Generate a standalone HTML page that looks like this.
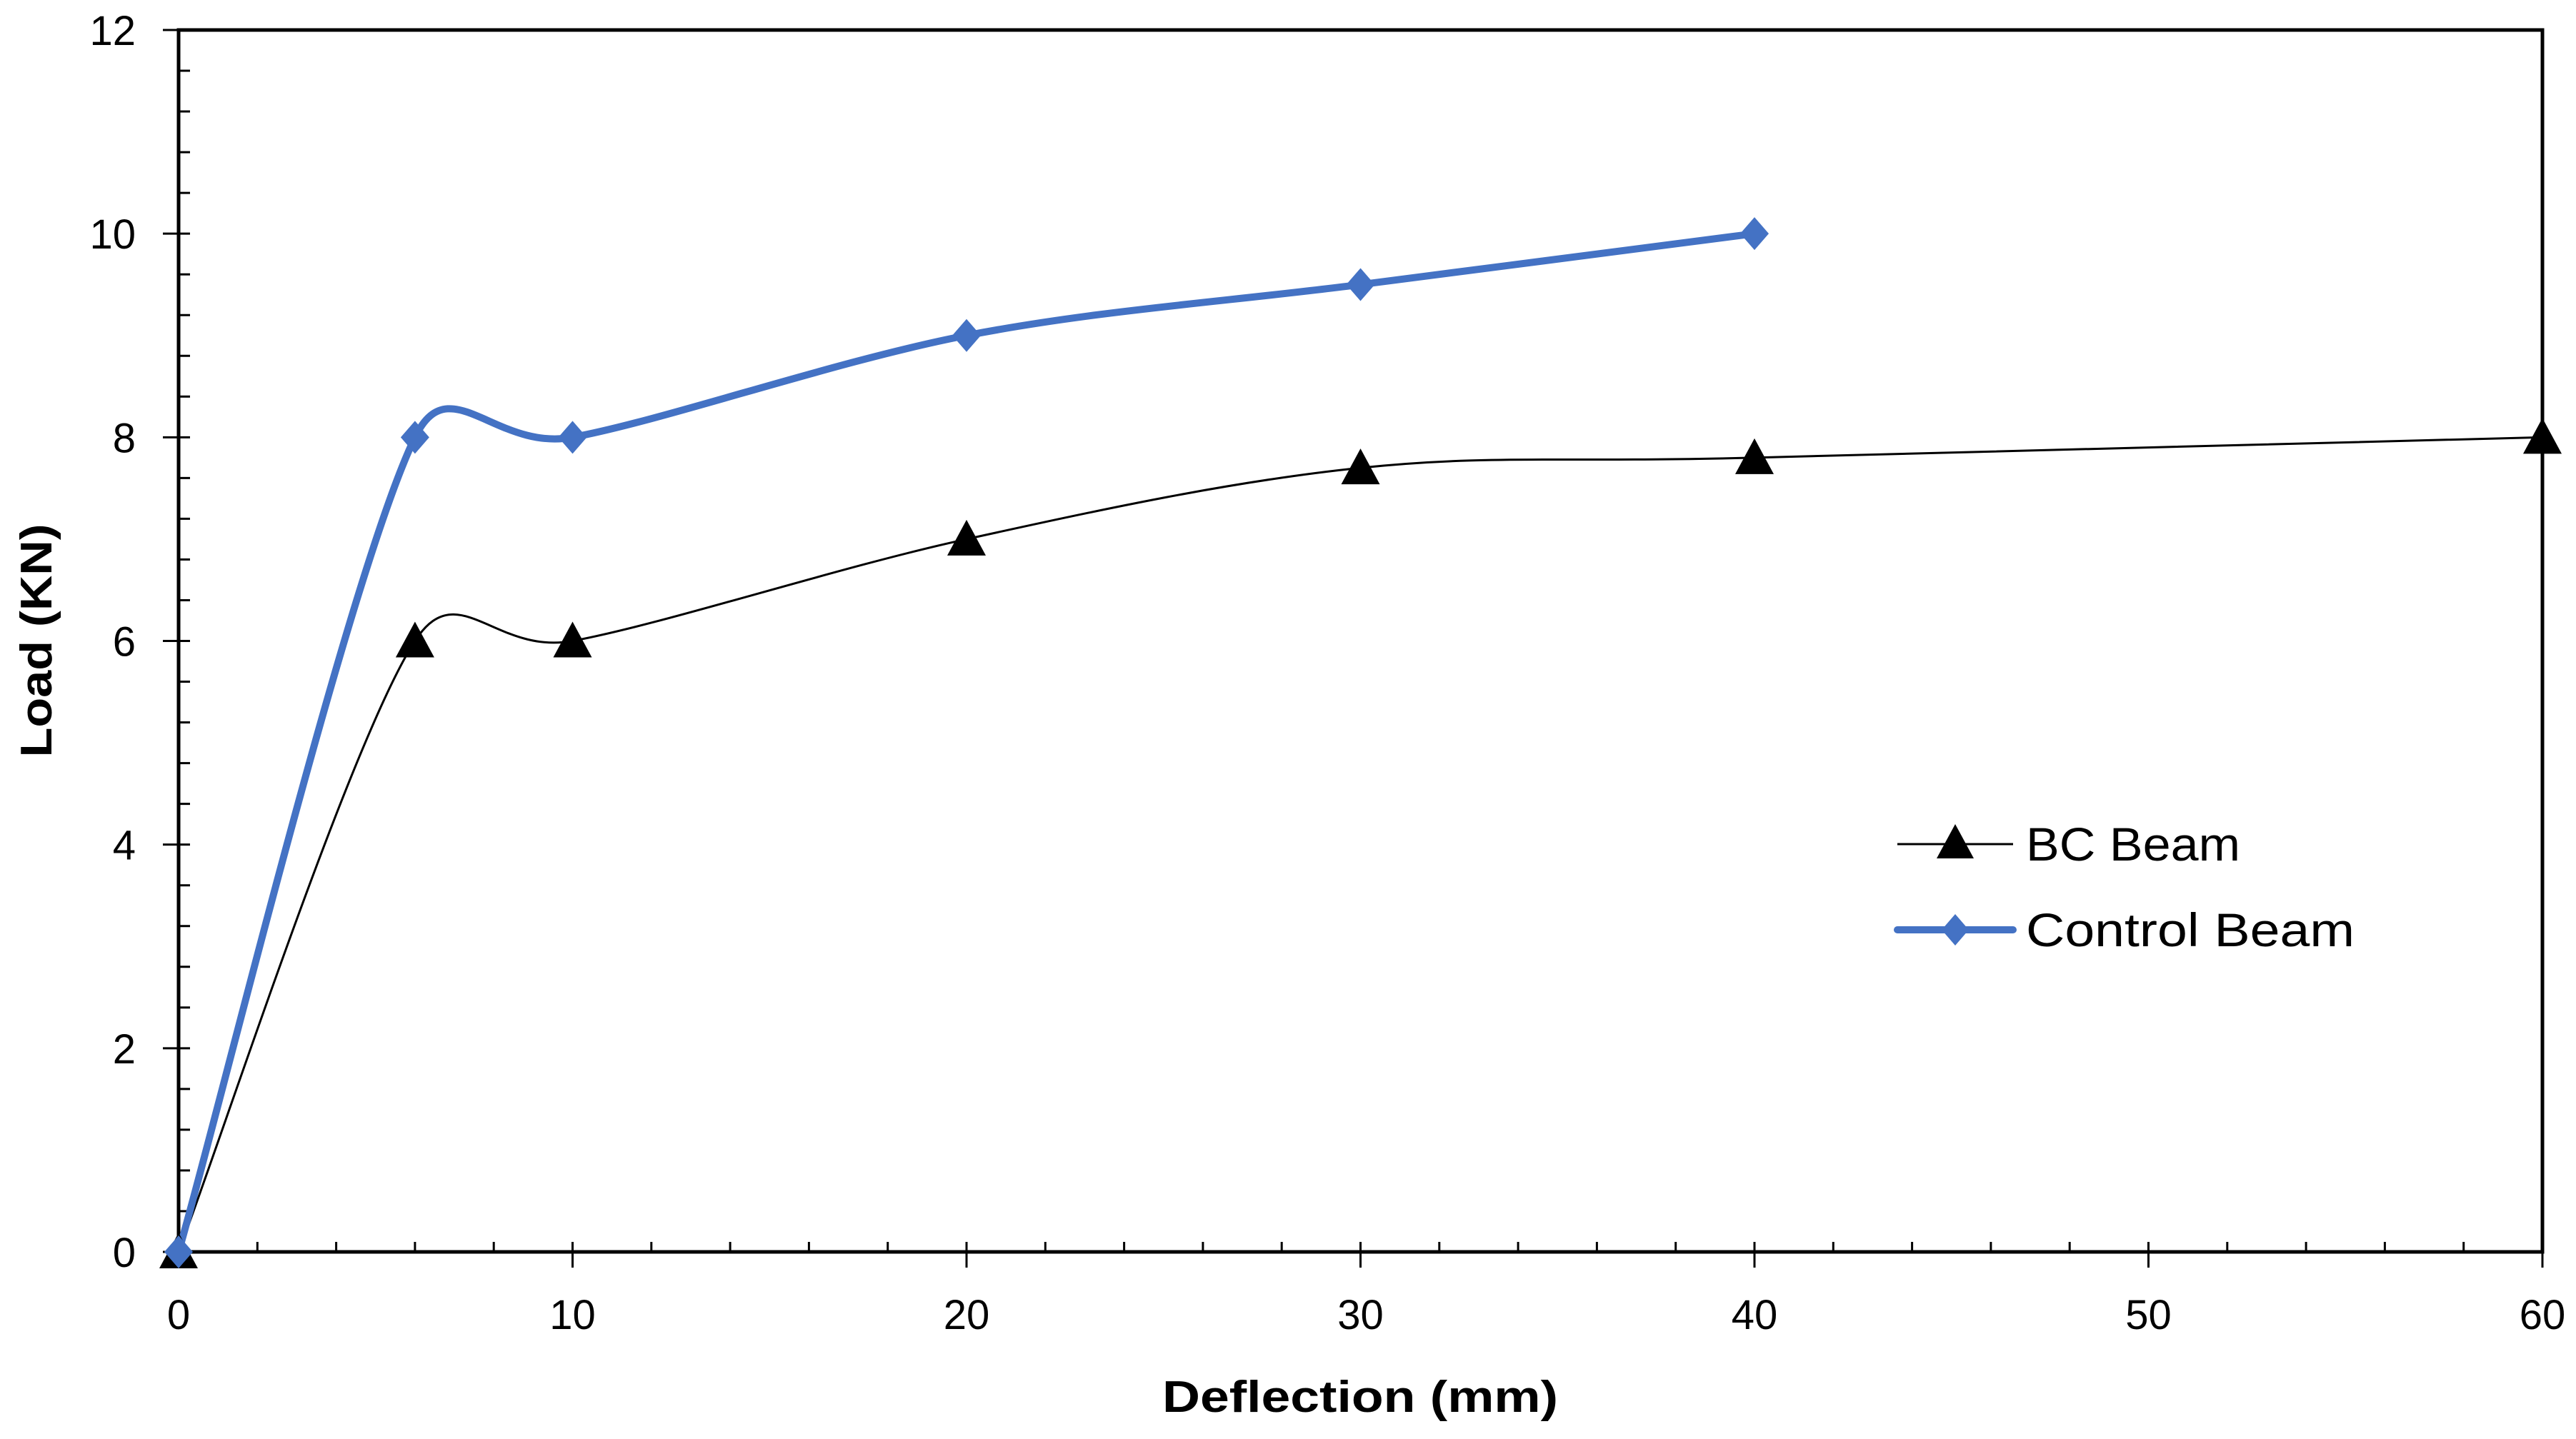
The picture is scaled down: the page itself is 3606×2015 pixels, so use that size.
<!DOCTYPE html>
<html><head><meta charset="utf-8"><style>
html,body{margin:0;padding:0;background:#fff;}
svg{display:block;font-family:"Liberation Sans",sans-serif;}
</style></head><body>
<svg id="chart" width="3606" height="2015" viewBox="0 0 3606 2015">
<rect width="3606" height="2015" fill="#fff"/>
<g id="axes"></g>
<g id="series"></g>
<g id="legend">
  <line x1="2656" y1="1182" x2="2818" y2="1182" stroke="#000" stroke-width="3"/>
  <polygon points="2737,1154 2763,1202 2711,1202" fill="#000"/>
  <text x="2836" y="1205" font-size="66" textLength="300" lengthAdjust="spacingAndGlyphs">BC Beam</text>
  <line x1="2656" y1="1302" x2="2818" y2="1302" stroke="#4472C4" stroke-width="10" stroke-linecap="round"/>
  <polygon points="2737,1280 2756,1302 2737,1324 2718,1302" fill="#4472C4"/>
  <text x="2836" y="1325" font-size="66" textLength="460" lengthAdjust="spacingAndGlyphs">Control Beam</text>
</g>
<text x="1904" y="1977" font-size="62" font-weight="bold" text-anchor="middle" textLength="554" lengthAdjust="spacingAndGlyphs">Deflection (mm)</text>
<text transform="translate(72,897) rotate(-90)" font-size="62" font-weight="bold" text-anchor="middle" textLength="327" lengthAdjust="spacingAndGlyphs">Load (KN)</text>
</svg>
<script>
const xTicks = [0,10,20,30,40,50,60];
const yTicks = [0,2,4,6,8,10,12];
const bcX = [0,6,10,20,30,40,60];
const bcY = [0,6,6,7,7.7,7.8,8];
const ctrlX = [0,6,10,20,30,40];
const ctrlY = [0,8,8,9,9.5,10];

const L=250,R=3559,T=42,B=1753;
const sx=v=>L+(v-0)/(60-0)*(R-L);
const sy=v=>B-(v-0)/(12-0)*(B-T);
const NS='http://www.w3.org/2000/svg';
function mk(tag,attrs,parent){const e=document.createElementNS(NS,tag);for(const k in attrs)e.setAttribute(k,attrs[k]);parent.appendChild(e);return e;}
const axes=document.getElementById('axes');
const series=document.getElementById('series');

for(let v=0;v<=60;v+=2){
  if(v%10===0) continue;
  mk('line',{x1:sx(v),y1:B,x2:sx(v),y2:B-14,stroke:'#000','stroke-width':3},axes);
}
for(let i=0;i<=30;i++){
  const v=i*0.4; if(i%5===0) continue;
  mk('line',{x1:L,y1:sy(v),x2:L+16,y2:sy(v),stroke:'#000','stroke-width':3},axes);
}
xTicks.forEach(v=>{
  const t=mk('line',{x1:sx(v),y1:B-14,x2:sx(v),y2:B+22,stroke:'#000','stroke-width':3},axes);
  
  
  const tx=mk('text',{x:sx(v),y:1861,'font-size':58,'text-anchor':'middle'},axes);
  tx.textContent=v;
  
  
});
yTicks.forEach(v=>{
  const t=mk('line',{x1:L-22,y1:sy(v),x2:L+16,y2:sy(v),stroke:'#000','stroke-width':3},axes);
  
  
  const tx=mk('text',{x:190,y:sy(v)+21,'font-size':58,'text-anchor':'end'},axes);
  tx.textContent=v;
  
  
});
const frame=mk('rect',{x:L,y:T,width:R-L,height:B-T,fill:'none',stroke:'#000','stroke-width':5},axes);



function clampVec(v,maxLen){const l=Math.hypot(v[0],v[1]);if(l>maxLen&&l>0){return [v[0]*maxLen/l,v[1]*maxLen/l];}return v;}
function smooth(xs,ys){
  const p=xs.map((x,i)=>[sx(x),sy(ys[i])]);
  const n=p.length;
  let d='M'+p[0][0]+','+p[0][1];
  for(let i=0;i<n-1;i++){
    const p0=p[i-1]||p[i],p1=p[i],p2=p[i+1],p3=p[i+2]||p[i+1];
    const seg=Math.hypot(p2[0]-p1[0],p2[1]-p1[1]);
    const h1=clampVec([(p2[0]-p0[0])/6,(p2[1]-p0[1])/6],0.5*seg);
    const h2=clampVec([(p3[0]-p1[0])/6,(p3[1]-p1[1])/6],0.5*seg);
    const c1=[p1[0]+h1[0],p1[1]+h1[1]];
    const c2=[p2[0]-h2[0],p2[1]-h2[1]];
    d+=' C'+c1+' '+c2+' '+p2;
  }
  return d;
}
const bcLine=mk('path',{d:smooth(bcX,bcY),fill:'none',stroke:'#000','stroke-width':3},series);


const cLine=mk('path',{d:smooth(ctrlX,ctrlY),fill:'none',stroke:'#4472C4','stroke-width':10,'stroke-linejoin':'round','stroke-linecap':'round'},series);


bcX.forEach((x,i)=>{
  const cx=sx(x),cy=sy(bcY[i]);
  const m=mk('polygon',{points:`${cx},${cy-27} ${cx+27},${cy+23} ${cx-27},${cy+23}`,fill:'#000'},series);
  
  
});
ctrlX.forEach((x,i)=>{
  const cx=sx(x),cy=sy(ctrlY[i]);
  const m=mk('polygon',{points:`${cx},${cy-23} ${cx+20},${cy} ${cx},${cy+23} ${cx-20},${cy}`,fill:'#4472C4'},series);
  
  
});
</script>
</body></html>
